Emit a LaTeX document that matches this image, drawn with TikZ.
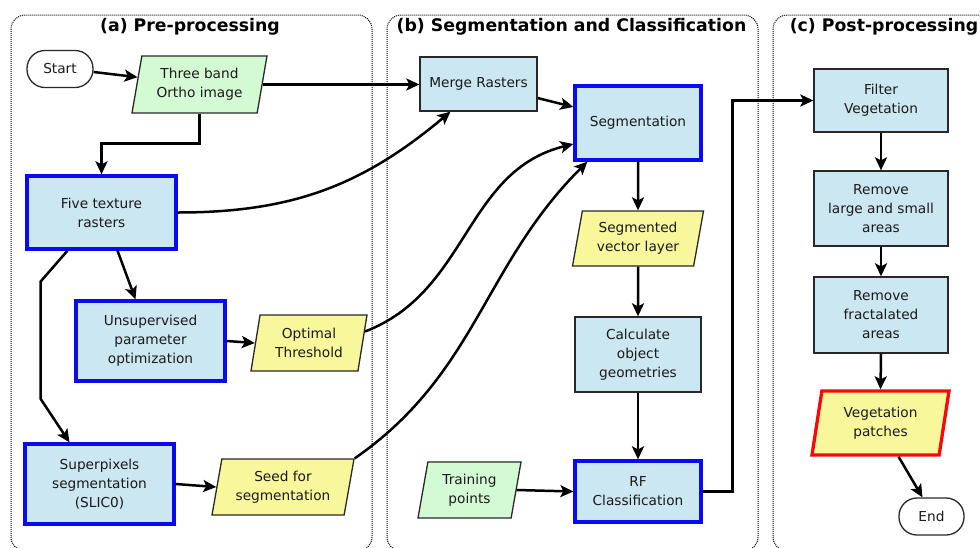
\documentclass[tikz,border=0pt]{standalone}
\usepackage{fontspec}
\setmainfont{DejaVu Sans}
\usetikzlibrary{shapes.geometric,arrows.meta,calc}
\definecolor{boxblue}{RGB}{203,231,241}
\definecolor{boxgreen}{RGB}{212,250,212}
\definecolor{boxyellow}{RGB}{249,247,155}
\definecolor{edgegray}{RGB}{40,40,40}
\definecolor{strongblue}{RGB}{10,10,240}
\definecolor{strongred}{RGB}{245,10,10}
\definecolor{inktext}{RGB}{26,26,26}
\begin{document}
\begin{tikzpicture}[x=1pt,y=-1pt,
  every node/.style={font=\fontsize{13.7}{19}\selectfont, align=center, text=inktext},
  proc/.style={rectangle, draw=edgegray, line width=1.3pt, fill=boxblue, inner sep=0pt},
  keybox/.style={proc, draw=strongblue, line width=3.3pt},
  data/.style={trapezium, trapezium left angle=73, trapezium right angle=107,
    trapezium stretches body=true, draw=edgegray, line width=1.3pt, inner sep=0pt},
  indata/.style={data, fill=boxgreen},
  outdata/.style={data, fill=boxyellow},
  finaldata/.style={outdata, draw=strongred, line width=3.3pt},
  term/.style={rectangle, rounded corners=18pt, draw=edgegray, line width=1.3pt,
    fill=white, minimum width=66pt, minimum height=37pt, inner sep=0pt},
  flow/.style={line width=2.5pt, draw=black, -{Stealth[length=13pt,width=12pt,inset=3pt]}},
  panel/.style={draw=black, dash pattern=on 1pt off 1pt, line width=1pt, rounded corners=14pt},
  paneltitle/.style={font=\fontsize{17.3}{20}\selectfont\bfseries, text=black}
]
\useasboundingbox (0,0) rectangle (980,547);

% panels
\draw[panel] (11,15) rectangle (372,551);
\draw[panel] (387,15) rectangle (758,551);
\draw[panel] (773,15) rectangle (1000,551);
\node[paneltitle] (ta) at (190,27) {(a) Pre-processing};
\node[paneltitle] (tb) at (571.5,27) {(b) Segmentation and Classification};
\node[paneltitle] (tc) at (884,27) {(c) Post-processing};

% (a)
\node[term] (start) at (60,69) {Start};
\node[indata, minimum width=135pt, minimum height=57pt] (ortho) at (199.5,84.5) {Three band\\Ortho image};
\node[keybox, minimum width=149pt, minimum height=73pt] (five) at (101.5,212.5) {Five texture\\rasters};
\node[keybox, minimum width=149pt, minimum height=80pt] (unsup) at (150.5,341) {Unsupervised\\parameter\\optimization};
\node[outdata, minimum width=116pt, minimum height=56pt] (optimal) at (309,343) {Optimal\\Threshold};
\node[keybox, minimum width=149pt, minimum height=80pt] (superpix) at (99.5,484) {Superpixels\\segmentation\\(SLIC0)};
\node[outdata, minimum width=142pt, minimum height=56pt] (seed) at (283,487) {Seed for\\segmentation};

% (b)
\node[proc, minimum width=117pt, minimum height=54pt] (merge) at (478.5,84) {Merge Rasters};
\node[keybox, minimum width=126pt, minimum height=74pt] (seg) at (638,123) {Segmentation};
\node[outdata, minimum width=131pt, minimum height=55pt] (segvec) at (638,238.5) {Segmented\\vector layer};
\node[proc, minimum width=126pt, minimum height=75pt] (calc) at (638,354.5) {Calculate\\object\\geometries};
\node[keybox, minimum width=126pt, minimum height=61pt] (rf) at (638,491.5) {RF\\Classification};
\node[indata, minimum width=103pt, minimum height=56pt] (train) at (469.5,490) {Training\\points};

% (c)
\node[proc, minimum width=134pt, minimum height=63pt] (filter) at (881,100.5) {Filter\\Vegetation};
\node[proc, minimum width=134pt, minimum height=75pt] (rlarge) at (881,208.5) {Remove\\large and small\\areas};
\node[proc, minimum width=134pt, minimum height=76pt] (rfrac) at (881,315) {Remove\\fractalated\\areas};
\node[finaldata, minimum width=137pt, minimum height=64pt] (vegp) at (880.5,423) {Vegetation\\patches};
\node[term, minimum width=65pt] (end) at (931.5,516.5) {End};

% connectors (a)
\draw[flow] ($(start.east)+(0,3)$) -- (ortho);
\draw[flow] (ortho.east) -- (ortho.east -| merge.west);
\draw[flow] (ortho.south) -- ++(0,30) -| (five.north);
\draw[flow] (five.east) .. controls +(114,0) and +(-88,74) .. ($(merge.south)+(-28,0)$);
\draw[flow] ($(five.south)+(16,0)$) -- ($(unsup.north)+(-15,0)$);
\draw[flow] ($(five.south)+(-34,0)$) -- ++(-27,31) -- ++(0,117) -- ($(superpix.north)+(-30,0)$);
\draw[flow] (unsup.east) -- (optimal.west);
\draw[flow] (superpix.east) -- (seed.west);
\draw[flow] ($(optimal.top right corner)!0.3!(optimal.bottom right corner)$) .. controls +(104,-40) and +(-109,27) .. ($(seg.west)+(0,21)$);
\draw[flow] (seed.top right corner) .. controls +(122,-85) and +(-105,105) .. ($(seg.south west)+(14,0)$);

% connectors (b)
\draw[flow] ($(merge.east)+(0,14)$) -- ($(seg.west)+(0,-16)$);
\draw[flow] (seg.south) -- (segvec.north);
\draw[flow] (segvec.south) -- (calc.north);
\draw[flow] (calc.south) -- (rf.north);
\draw[flow] (train.east) -- (rf.west);
\draw[flow] (rf.east) -- ++(30,0) |- (filter.west);

% connectors (c)
\draw[flow] (filter.south) -- (rlarge.north);
\draw[flow] (rlarge.south) -- (rfrac.north);
\draw[flow] (rfrac.south) -- (vegp.north);
\draw[flow] ($(vegp.south)+(18,0)$) -- ($(end.north)+(-9,0)$);
\end{tikzpicture}
\end{document}
